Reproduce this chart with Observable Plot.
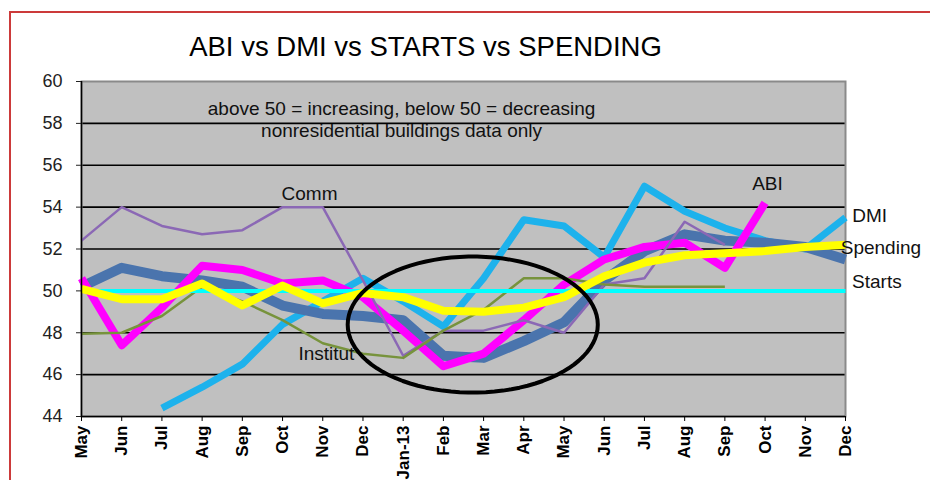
<!DOCTYPE html>
<html>
<head>
<meta charset="utf-8">
<script src="https://cdn.jsdelivr.net/npm/d3@7"></script>
<script src="https://cdn.jsdelivr.net/npm/@observablehq/plot@0.6"></script>
<style>
  html, body { margin: 0; padding: 0; background: #fff; width: 930px; height: 480px; overflow: hidden; }
  #wrap { position: relative; width: 930px; height: 480px; }
  #frame { position: absolute; left: 9px; top: 11px; width: 1000px; height: 1000px;
           border-top: 2px solid #cc3a3a; border-left: 2px solid #cc3a3a; pointer-events: none; }
  svg { font-family: "Liberation Sans", Arial, sans-serif; }
</style>
</head>
<body>
<div id="wrap"><div id="frame"></div><div id="chart"></div></div>
<script>
const months = ["May","Jun","Jul","Aug","Sep","Oct","Nov","Dec","Jan-13","Feb","Mar","Apr","May","Jun","Jul","Aug","Sep","Oct","Nov","Dec"];
const yTicks = [44, 46, 48, 50, 52, 54, 56, 58, 60];
const gridLines = [46, 48, 50, 52, 54, 56, 58];

const abi      = [50.6, 47.4, 49.2, 51.2, 51.0, 50.35, 50.5, 49.7, 48.1, 46.4, 47.0, 48.6, 50.3, 51.5, 52.1, 52.3, 51.1, 54.2, null, null];
const dmi      = [null, null, 44.4, 45.4, 46.5, 48.4, 49.5, 50.6, 49.5, 48.3, 50.6, 53.4, 53.1, 51.6, 55.0, 53.8, 53.0, 52.4, 52.0, 53.5];
const starts   = [50.2, 51.1, 50.7, 50.5, 50.2, 49.3, 48.9, 48.8, 48.6, 46.9, 46.8, 47.6, 48.5, 50.5, 51.9, 52.7, 52.4, 52.3, 52.1, 51.5];
const spending = [50.1, 49.6, 49.6, 50.35, 49.3, 50.25, 49.4, 49.9, 49.7, 49.05, 49.0, 49.2, 49.7, 50.7, 51.35, 51.7, 51.8, 51.9, 52.1, 52.2];
const comm     = [52.4, 54.0, 53.1, 52.7, 52.9, 54.0, 54.0, 50.5, 46.9, 48.1, 48.1, 48.6, 48.0, 50.3, 50.6, 53.3, 52.2, null, null, null];
const institut = [47.95, 48.0, 48.8, 50.2, 49.5, 48.6, 47.5, 47.0, 46.8, 48.1, 49.1, 50.6, 50.6, 50.3, 50.2, 50.2, 50.2, null, null, null];
const base50   = [50, 50, 50, 50, 50, 50, 50, 50, 50, 50, 50, 50, 50, 50, 50, 50, 50, 50, 50, 50];

const titleText = "ABI vs DMI vs STARTS vs SPENDING";
const noteLines = ["above 50 = increasing, below 50 = decreasing", "nonresidential buildings data only"];
const seriesLabels = [
  {text: "Comm",     x: 5.67,  y: 54.65},
  {text: "Institut", x: 6.09,  y: 47.0},
  {text: "ABI",      x: 17.06, y: 55.1},
  {text: "DMI",      x: 19.6,  y: 53.6},
  {text: "Spending", x: 19.88, y: 52.07},
  {text: "Starts",   x: 19.78, y: 50.45}
];
const notes = [
  {text: noteLines[0], x: 7.96, y: 58.71},
  {text: noteLines[1], x: 7.96, y: 57.66}
];
// highlight ellipse (annotation) in data units
const ell = {cx: 9.73, cy: 48.39, rx: 3.11, ry: 3.25};
const ellipsePts = d3.range(0, 361, 4).map(a => ({
  x: ell.cx + ell.rx * Math.cos(a * Math.PI / 180),
  y: ell.cy + ell.ry * Math.sin(a * Math.PI / 180)
}));

const toRows = arr => arr.map((v, i) => ({x: i, y: v}));
const lineOpts = (stroke, w) => ({x: "x", y: "y", stroke, strokeWidth: w, strokeLinejoin: "round", strokeLinecap: "butt", defined: d => d.y != null});

const chart = Plot.plot({
  width: 930,
  height: 480,
  marginLeft: 81,
  marginRight: 85,
  marginTop: 81,
  marginBottom: 64,
  x: {type: "linear", domain: [0, months.length - 1]},
  y: {domain: [44, 60]},
  style: {fontFamily: "'Liberation Sans', Arial, sans-serif", background: "transparent"},
  marks: [
    Plot.frame({fill: "#c0c0c0"}),
    Plot.ruleY(gridLines, {stroke: "#000", strokeWidth: 1.6}),
    Plot.frame({stroke: "#8a8a8a", strokeWidth: 2}),
    Plot.line(toRows(dmi), lineOpts("#1db2ec", 7)),
    Plot.line(toRows(starts), lineOpts("#4a74ad", 10)),
    Plot.line(toRows(abi), lineOpts("#ff00ff", 8)),
    Plot.line(toRows(comm), lineOpts("#8b68b5", 2.5)),
    Plot.line(toRows(institut), lineOpts("#77933c", 2.5)),
    Plot.line(toRows(base50), lineOpts("#00ffff", 4)),
    Plot.line(toRows(spending), lineOpts("#ffff00", 8)),
    Plot.line(ellipsePts, {x: "x", y: "y", stroke: "#000", strokeWidth: 4, curve: "linear"}),
    Plot.ruleX([0], {stroke: "#000", strokeWidth: 1.5}),
    Plot.ruleY([44], {stroke: "#000", strokeWidth: 1.5}),
    Plot.axisY({ticks: yTicks, tickSize: 5, tickPadding: 14, fontSize: 18, color: "#222", label: null, tickFormat: d => String(d)}),
    Plot.axisX({ticks: d3.range(months.length), tickFormat: i => months[i], tickSize: 5, tickPadding: 4, tickRotate: -90, fontSize: 17, fontWeight: "bold", color: "#000", label: null}),
    Plot.text(notes, {x: "x", y: "y", text: "text", fontSize: 19, fill: "#111", textAnchor: "middle"}),
    Plot.text(seriesLabels, {x: "x", y: "y", text: "text", fontSize: 19, fill: "#111", textAnchor: "middle"}),
    Plot.text([titleText], {frameAnchor: "top", dx: -38, dy: -45, fontSize: 27.5, fill: "#000", textAnchor: "middle"})
  ]
});
document.getElementById("chart").appendChild(chart);
</script>
</body>
</html>
